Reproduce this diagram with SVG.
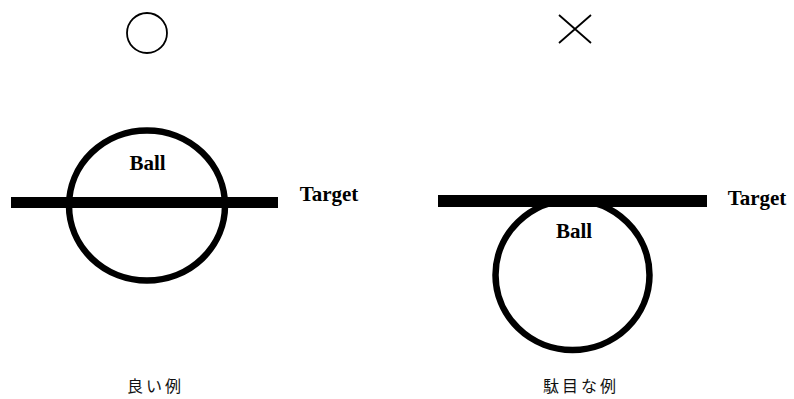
<svg xmlns="http://www.w3.org/2000/svg" width="794" height="399" viewBox="0 0 794 399">
<style>
.lbl{font-family:"Liberation Serif","Times New Roman",serif;font-size:21px;font-weight:bold;fill:#000}
.jp{font-family:"Noto Sans CJK JP","Noto Sans CJK SC",sans-serif;font-size:16px;fill:#111;letter-spacing:3px}
.ball{fill:none;stroke:#000;stroke-width:6.5}
.bar{fill:#000}
.sym{fill:none;stroke:#000;stroke-width:1.8}
</style>
<rect width="794" height="399" fill="#fff"/>
<g id="good-mark"><circle class="sym" cx="147" cy="33" r="20"/></g>
<g id="bad-mark"><path class="sym" d="M559 15 L591 43 M591 15 L559 43"/></g>
<g id="good-ball"><ellipse class="ball" cx="147" cy="205.5" rx="78" ry="75"/><text class="lbl" x="147.5" y="170" text-anchor="middle">Ball</text></g>
<g id="good-target"><rect class="bar" x="11" y="197" width="267" height="11"/><text class="lbl" x="329" y="201" text-anchor="middle">Target</text></g>
<g id="bad-ball"><ellipse class="ball" cx="572.5" cy="275" rx="77" ry="75"/><text class="lbl" x="574" y="238" text-anchor="middle">Ball</text></g>
<g id="bad-target"><rect class="bar" x="438" y="195" width="269" height="12"/><text class="lbl" x="757" y="205" text-anchor="middle">Target</text></g>
<g id="good-caption"><text class="jp" x="127" y="392">良い例</text></g>
<g id="bad-caption"><text class="jp" x="543" y="392">駄目な例</text></g>
</svg>
